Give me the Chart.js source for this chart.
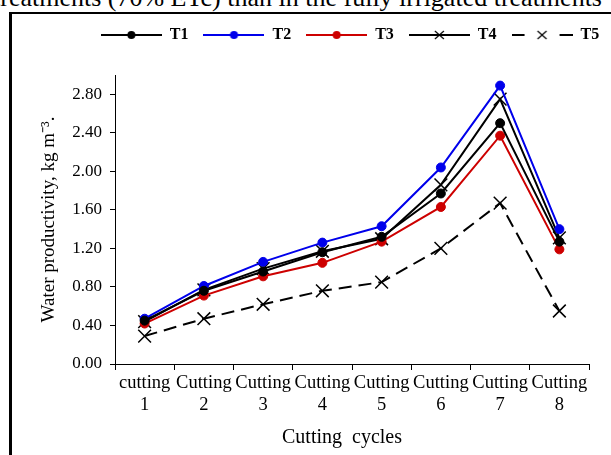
<!DOCTYPE html>
<html>
<head>
<meta charset="utf-8">
<script src="https://cdn.jsdelivr.net/npm/chart.js@4"></script>
<style>
  html, body { margin: 0; padding: 0; width: 611px; height: 455px; overflow: hidden; background: #fff; }
  #heading { position: absolute; left: -7px; top: -15px; font: 26px/26px "Liberation Serif", serif; white-space: nowrap; color: #000; }
  #frame { position: absolute; left: 9px; top: 12px; width: 800px; height: 600px; border-left: 3px solid #000; border-top: 2px solid #000; }
  #chart { position: absolute; left: 0; top: 0; }
</style>
</head>
<body>
<div id="heading">treatments (70% ETc) than in the fully irrigated treatments</div>
<div id="frame"></div>
<canvas id="chart" width="688" height="455"></canvas>
<script>
// Data
const categories = [['cutting', '1'], ['Cutting', '2'], ['Cutting', '3'], ['Cutting', '4'],
                    ['Cutting', '5'], ['Cutting', '6'], ['Cutting', '7'], ['Cutting', '8']];
const t1 = [0.45, 0.76, 0.96, 1.16, 1.32, 1.77, 2.50, 1.27];
const t2 = [0.47, 0.81, 1.06, 1.26, 1.43, 2.04, 2.89, 1.40];
const t3 = [0.42, 0.71, 0.91, 1.05, 1.27, 1.63, 2.37, 1.19];
const t4 = [0.44, 0.77, 0.99, 1.17, 1.30, 1.86, 2.75, 1.31];
const t5 = [0.29, 0.47, 0.62, 0.76, 0.85, 1.20, 1.67, 0.55];
const seriesNames = ['T1', 'T2', 'T3', 'T4', 'T5'];
const yTicks = [0, 0.4, 0.8, 1.2, 1.6, 2.0, 2.4, 2.8];

const blue = 'rgb(0, 0, 235)';
const red = 'rgb(205, 0, 0)';

Chart.defaults.font.family = '"Liberation Serif", "Times New Roman", serif';
Chart.defaults.color = '#000';

// little line+marker pictures for the legend, like Excel draws them
function legendIcon(color, marker, dashed) {
  const c = document.createElement('canvas');
  c.width = 61; c.height = 14;
  const g = c.getContext('2d');
  g.strokeStyle = color; g.fillStyle = color; g.lineWidth = 2;
  g.beginPath();
  if (dashed) {
    g.moveTo(0, 7); g.lineTo(13, 7);
    g.moveTo(48, 7); g.lineTo(61, 7);
  } else {
    g.moveTo(0, 7); g.lineTo(61, 7);
  }
  g.stroke();
  if (marker === 'circle') {
    g.beginPath(); g.arc(30.5, 7, 4, 0, Math.PI * 2); g.fill();
  } else {
    g.lineWidth = 1.2;
    g.beginPath();
    g.moveTo(26, 3); g.lineTo(35, 11);
    g.moveTo(35, 3); g.lineTo(26, 11);
    g.stroke();
  }
  return c;
}
const legendIcons = [
  legendIcon('#000', 'circle', false),
  legendIcon(blue, 'circle', false),
  legendIcon(red, 'circle', false),
  legendIcon('#000', 'cross', false),
  legendIcon('#000', 'cross', true)
];

function series(label, data, color, style, dash) {
  return {
    label: label,
    data: data,
    borderColor: color,
    backgroundColor: color,
    borderWidth: 2,
    borderDash: dash || [],
    pointStyle: style,
    pointRadius: style === 'circle' ? 4.5 : 9,
    pointBorderWidth: style === 'circle' ? 1 : 1.5,
    pointBorderColor: color,
    pointBackgroundColor: color,
    tension: 0,
    yAxisID: 'y'
  };
}

new Chart(document.getElementById('chart'), {
  type: 'line',
  data: {
    labels: categories,
    datasets: [
      series(seriesNames[0], t1, '#000', 'circle'),
      series(seriesNames[1], t2, blue, 'circle'),
      series(seriesNames[2], t3, red, 'circle'),
      series(seriesNames[3], t4, '#000', 'crossRot'),
      series(seriesNames[4], t5, '#000', 'crossRot', [13, 7])
    ]
  },
  options: {
    responsive: false,
    animation: false,
    devicePixelRatio: 1,
    layout: { padding: { left: 12, right: 0, top: 12, bottom: 0 } },
    plugins: {
      legend: {
        position: 'top',
        labels: {
          usePointStyle: true,
          pointStyleWidth: 61,
          padding: 15,
          font: { size: 16, weight: 'bold' },
          generateLabels(chart) {
            const items = Chart.defaults.plugins.legend.labels.generateLabels(chart);
            items.forEach((it, i) => { it.pointStyle = legendIcons[i]; });
            return items;
          }
        }
      },
      // empty spacer between the legend and the plot
      subtitle: {
        display: true,
        text: '',
        weight: 500,
        font: { size: 1, lineHeight: 1 },
        padding: { top: 0, bottom: 21 }
      },
      tooltip: { enabled: false }
    },
    scales: {
      x: {
        offset: true,
        grid: { display: true, offset: true, drawOnChartArea: false, tickLength: 6, color: '#000' },
        border: { color: '#000', width: 1 },
        ticks: { font: { size: 18.5 }, padding: 2, maxRotation: 0, autoSkip: false },
        title: { display: true, text: 'Cutting  cycles    ', font: { size: 20 }, padding: { top: 0, bottom: 5 } },
        afterFit(scale) { scale.height = 91; }
      },
      y: {
        min: 0,
        max: 3.0,
        grid: { display: true, drawOnChartArea: false, tickLength: 5, color: '#000' },
        border: { color: '#000', width: 1 },
        afterBuildTicks(scale) { scale.ticks = yTicks.map(v => ({ value: v })); },
        ticks: {
          font: { size: 17 },
          padding: 8,
          callback: v => v.toFixed(2)
        },
        title: { display: true, text: 'Water productivity, kg m\u207B\u00B3.', font: { size: 19 }, padding: { top: 26, bottom: 0 } },
        afterFit(scale) { scale.width = 103; }
      },
      // invisible axis on the right that keeps the plot narrower than the frame
      yRight: {
        position: 'right',
        display: true,
        grid: { display: false },
        border: { display: false },
        ticks: { display: false },
        afterFit(scale) { scale.width = 99; }
      }
    }
  }
});
</script>
</body>
</html>
